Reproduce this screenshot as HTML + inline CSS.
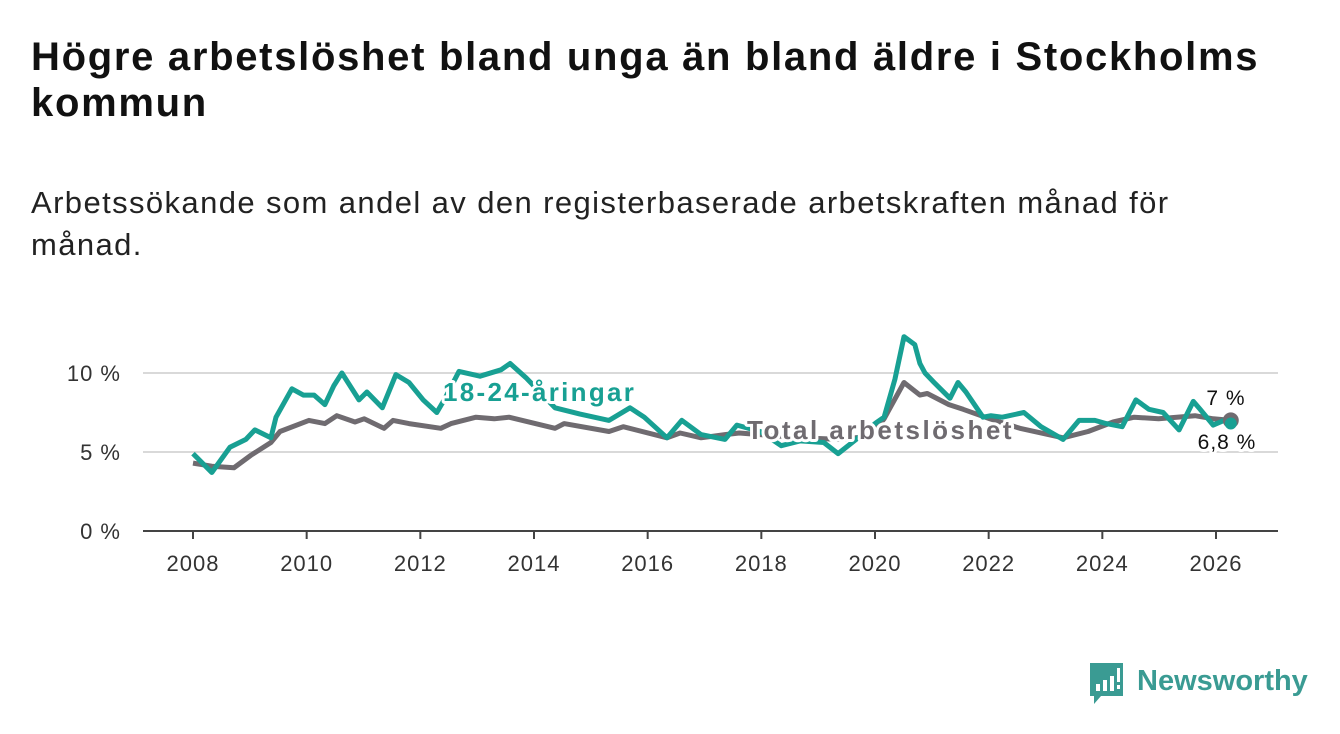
<!DOCTYPE html>
<html><head><meta charset="utf-8">
<style>
body{margin:0;background:#fff;width:1340px;height:734px;overflow:hidden;font-family:"Liberation Sans","DejaVu Sans",sans-serif;}
h1{position:absolute;left:31px;top:34px;margin:0;font-size:40px;line-height:46px;font-weight:bold;color:#111;width:1270px;letter-spacing:1.7px;}
.sub{position:absolute;left:31px;top:182px;margin:0;font-size:31px;line-height:42px;color:#222;width:1200px;letter-spacing:1.4px;}
svg{position:absolute;left:0;top:0;}
</style></head><body>
<h1>Högre arbetslöshet bland unga än bland äldre i Stockholms kommun</h1>
<p class="sub">Arbetssökande som andel av den registerbaserade arbetskraften månad för månad.</p>
<svg id="chart" width="1340" height="734"></svg>
<script>
const yearTicks=[2008,2010,2012,2014,2016,2018,2020,2022,2024,2026];
const yTicks=[0,5,10];
const yTickLabels=["0 %","5 %","10 %"];
const youthYears=[2008.0,2008.33,2008.65,2008.93,2009.09,2009.37,2009.46,2009.74,2009.94,2010.13,2010.32,2010.48,2010.62,2010.92,2011.06,2011.33,2011.57,2011.8,2012.05,2012.29,2012.42,2012.68,2013.05,2013.42,2013.58,2013.86,2014.37,2014.81,2015.32,2015.69,2015.94,2016.34,2016.6,2016.94,2017.36,2017.57,2017.98,2018.35,2018.68,2019.1,2019.35,2019.74,2020.0,2020.16,2020.35,2020.51,2020.7,2020.79,2020.88,2021.04,2021.32,2021.46,2021.6,2021.9,2022.04,2022.24,2022.62,2022.92,2023.31,2023.59,2023.87,2024.07,2024.35,2024.59,2024.82,2025.07,2025.35,2025.6,2025.72,2025.95,2026.14,2026.26];
const youthValues=[4.9,3.7,5.3,5.8,6.4,5.9,7.2,9.0,8.6,8.6,8.0,9.2,10.0,8.3,8.8,7.8,9.9,9.4,8.3,7.5,8.3,10.1,9.8,10.2,10.6,9.7,7.8,7.4,7.0,7.8,7.2,5.9,7.0,6.1,5.8,6.7,6.3,5.4,5.7,5.6,4.9,6.0,6.8,7.2,9.6,12.3,11.8,10.6,10.0,9.4,8.4,9.4,8.8,7.2,7.3,7.2,7.5,6.6,5.8,7.0,7.0,6.8,6.6,8.3,7.7,7.5,6.4,8.2,7.7,6.7,7.0,6.8];
const totalYears=[2008.0,2008.33,2008.72,2009.02,2009.37,2009.53,2010.04,2010.32,2010.53,2010.85,2011.01,2011.36,2011.52,2011.8,2012.36,2012.54,2012.98,2013.3,2013.56,2014.37,2014.53,2015.32,2015.57,2016.34,2016.57,2016.94,2017.36,2017.61,2017.98,2018.68,2019.38,2019.91,2020.16,2020.51,2020.79,2020.92,2021.3,2021.55,2022.02,2022.55,2023.31,2023.75,2024.19,2024.56,2024.99,2025.31,2025.63,2025.95,2026.26];
const totalValues=[4.3,4.1,4.0,4.8,5.6,6.3,7.0,6.8,7.3,6.9,7.1,6.5,7.0,6.8,6.5,6.8,7.2,7.1,7.2,6.5,6.8,6.3,6.6,5.9,6.2,5.9,6.1,6.2,6.1,5.9,5.8,6.0,7.1,9.4,8.6,8.7,8.0,7.7,7.1,6.5,5.9,6.3,6.9,7.2,7.1,7.2,7.3,7.1,7.0];

const NS="http://www.w3.org/2000/svg";
const svg=document.getElementById('chart');
const X=y=>193+(y-2008)*(1216-193)/18;
const Y=v=>531-v*15.8;
function mk(t,a,p){const e=document.createElementNS(NS,t);for(const k in a)e.setAttribute(k,a[k]);(p||svg).appendChild(e);return e;}
yTicks.forEach((t,i)=>{
 const l=mk('line',{x1:143,x2:1278,y1:Y(t),y2:Y(t),stroke:t===0?'#444':'#d9d9d9','stroke-width':2});
 
 
 const tx=mk('text',{x:121,y:Y(t)+8,'text-anchor':'end','font-size':22,fill:'#333','letter-spacing':1});
 tx.textContent=yTickLabels[i];
 
 
});
yearTicks.forEach(yr=>{
 const l=mk('line',{x1:X(yr),x2:X(yr),y1:531,y2:539,stroke:'#444','stroke-width':2});
 
 
 const tx=mk('text',{x:X(yr),y:571,'text-anchor':'middle','font-size':22,fill:'#333','letter-spacing':1});
 tx.textContent=yr;
 
 
});
function path(xs,vs){return xs.map((x,i)=>(i?'L':'M')+X(x).toFixed(1)+','+Y(vs[i]).toFixed(1)).join('');}
const tl=mk('path',{d:path(totalYears,totalValues),fill:'none',stroke:'#6f6b70','stroke-width':5,'stroke-linejoin':'round'});


const yl=mk('path',{d:path(youthYears,youthValues),fill:'none',stroke:'#18a093','stroke-width':5,'stroke-linejoin':'round'});


const lt=totalYears.length-1, ly=youthYears.length-1;
const d1=mk('circle',{cx:X(totalYears[lt]),cy:Y(totalValues[lt]),r:8,fill:'#6f6b70'});


const d2=mk('circle',{cx:X(youthYears[ly]),cy:Y(youthValues[ly]),r:6,fill:'#18a093'});


function label(txt,x,y,fill,size,weight,anchor,ls,name){
 const t=mk('text',{x:x,y:y,'font-size':size,'font-weight':weight,fill:fill,stroke:'#fff','stroke-width':6,'paint-order':'stroke','stroke-linejoin':'round','text-anchor':anchor,'letter-spacing':ls});
 t.textContent=txt;
 
 
}
label('18-24-åringar',443,401,'#18a093',26,'bold','start',2.3,'youth-series-label');
label('Total arbetslöshet',747,439,'#6f6b70',26,'bold','start',2.5,'total-series-label');
label(totalValues[lt].toLocaleString('sv-SE')+' %',1226,405,'#111',21,'normal','middle',1,'total-end-value');
label(youthValues[ly].toLocaleString('sv-SE')+' %',1227,449,'#111',21,'normal','middle',1,'youth-end-value');
const g=mk('g',{});


mk('path',{d:'M1090,663 h33 v33 h-22 l-7,8 v-8 h-4 z',fill:'#3a9b93'},g);
[[1096,684,4,7],[1103,680,4,11],[1110,676,4,15]].forEach(r=>mk('rect',{x:r[0],y:r[1],width:r[2],height:r[3],fill:'#fff'},g));
mk('rect',{x:1117,y:668,width:3,height:14,fill:'#fff'},g);
mk('rect',{x:1117,y:685,width:3,height:4,fill:'#fff'},g);
const lg=mk('text',{x:1137,y:690,'font-size':29,fill:'#3a9b93','font-weight':'bold','letter-spacing':0},g);
lg.textContent='Newsworthy';
</script>
</body></html>
